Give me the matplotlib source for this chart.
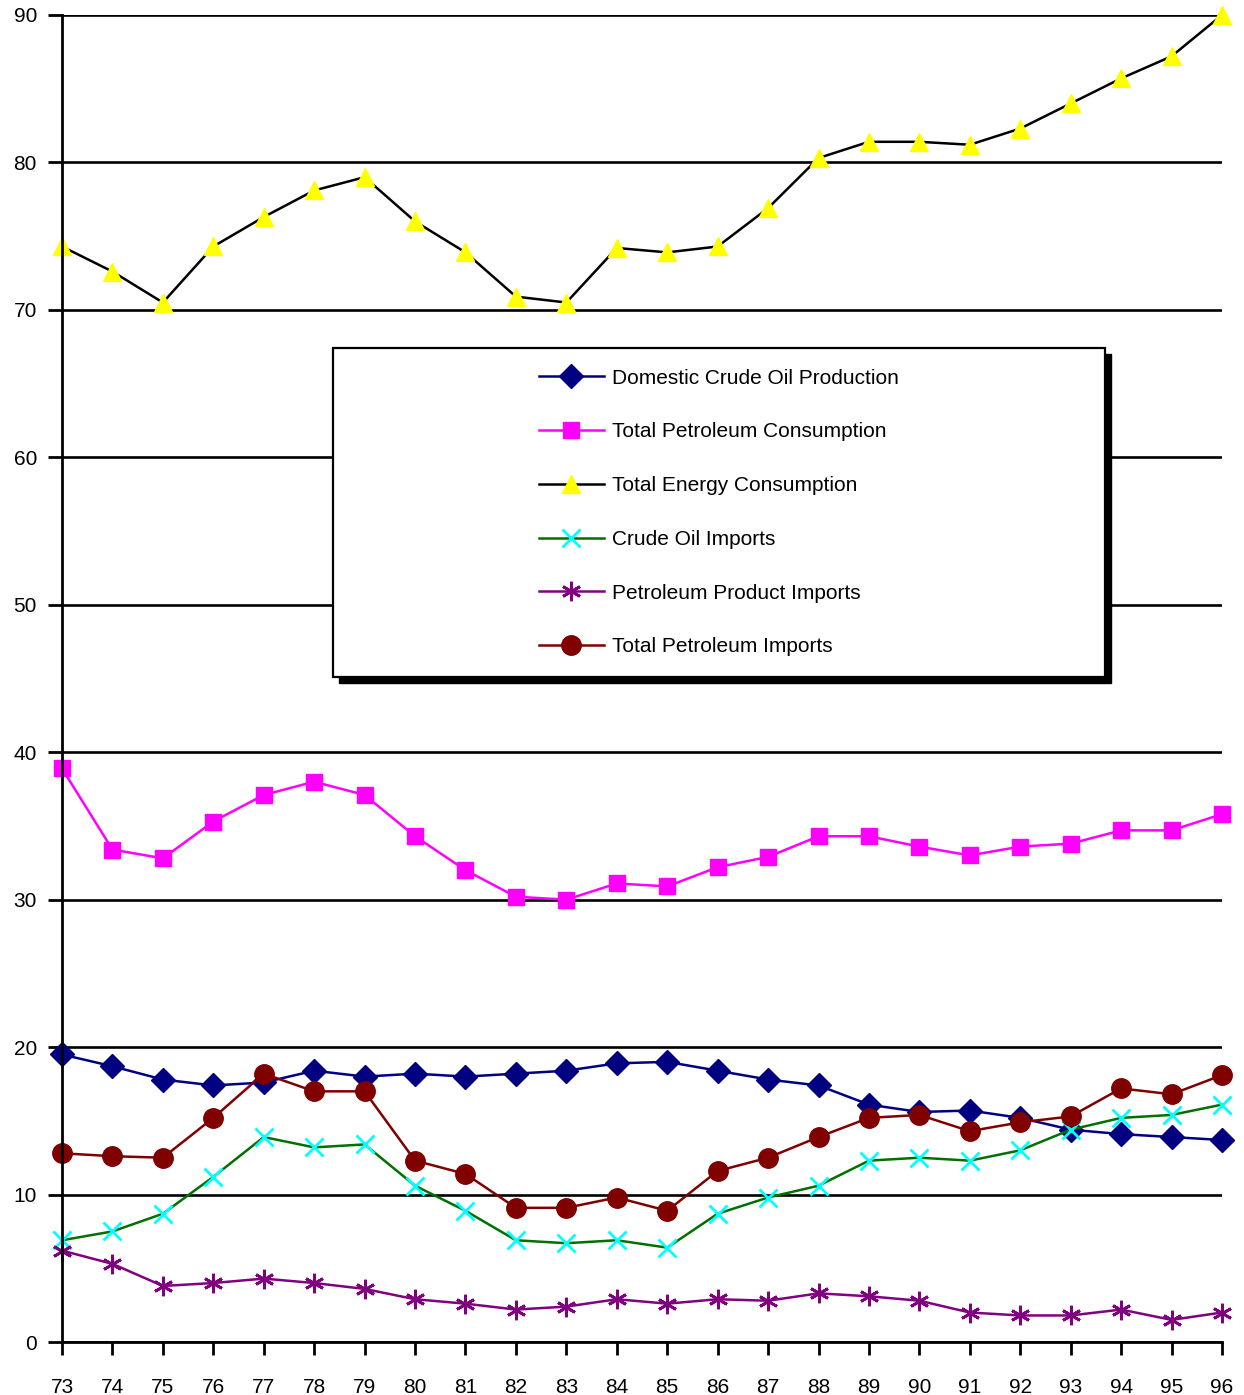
import matplotlib.pyplot as plt
from matplotlib.patches import Rectangle

plt.rcParams['font.family'] = ['Liberation Sans', 'DejaVu Sans']

years = list(range(73, 97))
year_labels = [str(y) for y in years]

domestic_crude = [19.5, 18.7, 17.8, 17.4, 17.6, 18.4, 18.0, 18.2, 18.0, 18.2, 18.4, 18.9,
                  19.0, 18.4, 17.8, 17.4, 16.1, 15.6, 15.7, 15.2, 14.4, 14.1, 13.9, 13.7]
petroleum_consumption = [38.9, 33.4, 32.8, 35.3, 37.1, 38.0, 37.1, 34.3, 32.0, 30.2, 30.0, 31.1,
                         30.9, 32.2, 32.9, 34.3, 34.3, 33.6, 33.0, 33.6, 33.8, 34.7, 34.7, 35.8]
energy_consumption = [74.3, 72.6, 70.5, 74.3, 76.3, 78.1, 79.0, 76.0, 73.9, 70.9, 70.5, 74.2,
                      73.9, 74.3, 76.9, 80.3, 81.4, 81.4, 81.2, 82.3, 84.0, 85.7, 87.2, 90.0]
crude_imports = [6.9, 7.5, 8.7, 11.2, 13.9, 13.2, 13.4, 10.6, 8.9, 6.9, 6.7, 6.9,
                 6.4, 8.7, 9.8, 10.6, 12.3, 12.5, 12.3, 13.0, 14.4, 15.2, 15.4, 16.1]
product_imports = [6.2, 5.3, 3.8, 4.0, 4.3, 4.0, 3.6, 2.9, 2.6, 2.2, 2.4, 2.9,
                   2.6, 2.9, 2.8, 3.3, 3.1, 2.8, 2.0, 1.8, 1.8, 2.2, 1.5, 2.0]
total_imports = [12.8, 12.6, 12.5, 15.2, 18.2, 17.0, 17.0, 12.3, 11.4, 9.1, 9.1, 9.8,
                 8.9, 11.6, 12.5, 13.9, 15.2, 15.4, 14.3, 14.9, 15.3, 17.2, 16.8, 18.1]

fig = plt.figure(figsize=(12.44, 13.95), dpi=100)
ax = fig.add_axes([62 / 1244, 53 / 1395, 1160 / 1244, 1327 / 1395])

lw = 1.8
ax.plot(years, domestic_crude, color='#000080', lw=lw, marker='D', ms=12,
        mfc='#000080', mec='#000080', label='Domestic Crude Oil Production', clip_on=False)
ax.plot(years, petroleum_consumption, color='#FF00FF', lw=lw, marker='s', ms=11,
        mfc='#FF00FF', mec='#FF00FF', label='Total Petroleum Consumption', clip_on=False)
ax.plot(years, energy_consumption, color='black', lw=lw, marker='^', ms=13,
        mfc='#FFFF00', mec='#FFFF00', label='Total Energy Consumption', clip_on=False)
ax.plot(years, crude_imports, color='#007000', lw=lw, marker='x', ms=13, mew=2,
        mec='#00FFFF', label='Crude Oil Imports', clip_on=False)
ax.plot(years, product_imports, color='#800080', lw=lw, marker=(6, 2, 0), ms=14, mew=2,
        mec='#800080', label='Petroleum Product Imports', clip_on=False)
ax.plot(years, total_imports, color='#800000', lw=lw, marker='o', ms=14,
        mfc='#800000', mec='#800000', label='Total Petroleum Imports', clip_on=False)

ax.set_xlim(73, 96)
ax.set_ylim(0, 90)
ax.set_xticks(years)
ax.set_xticklabels(year_labels)
ax.set_yticks(range(0, 91, 10))

ax.grid(axis='y', color='black', lw=1.9)
ax.set_axisbelow(True)
for side in ['top', 'right']:
    ax.spines[side].set_visible(False)
for side in ['left', 'bottom']:
    ax.spines[side].set_linewidth(2)
ax.tick_params(axis='y', length=10, width=2, pad=8, labelsize=15)
ax.tick_params(axis='x', length=9, width=2, pad=17, labelsize=15)

# legend box with a solid drop shadow
x0, x1 = 0.2336, 0.8991
y0, y1 = 0.5011, 0.7491
shadow = Rectangle((x0 + 0.0052, y0 - 0.0045), x1 - x0, y1 - y0, transform=ax.transAxes,
                   facecolor='black', edgecolor='black', zorder=5)
box = Rectangle((x0, y0), x1 - x0, y1 - y0, transform=ax.transAxes,
                facecolor='white', edgecolor='black', lw=1.6, zorder=6)
ax.add_patch(shadow)
ax.add_patch(box)

leg = ax.legend(loc='center', bbox_to_anchor=((x0 + x1) / 2, (y0 + y1) / 2),
                frameon=False, fontsize=15, handlelength=3.1, handletextpad=0.4,
                labelspacing=1.67)
leg.set_zorder(7)

fig.savefig('out.png', dpi=100)
